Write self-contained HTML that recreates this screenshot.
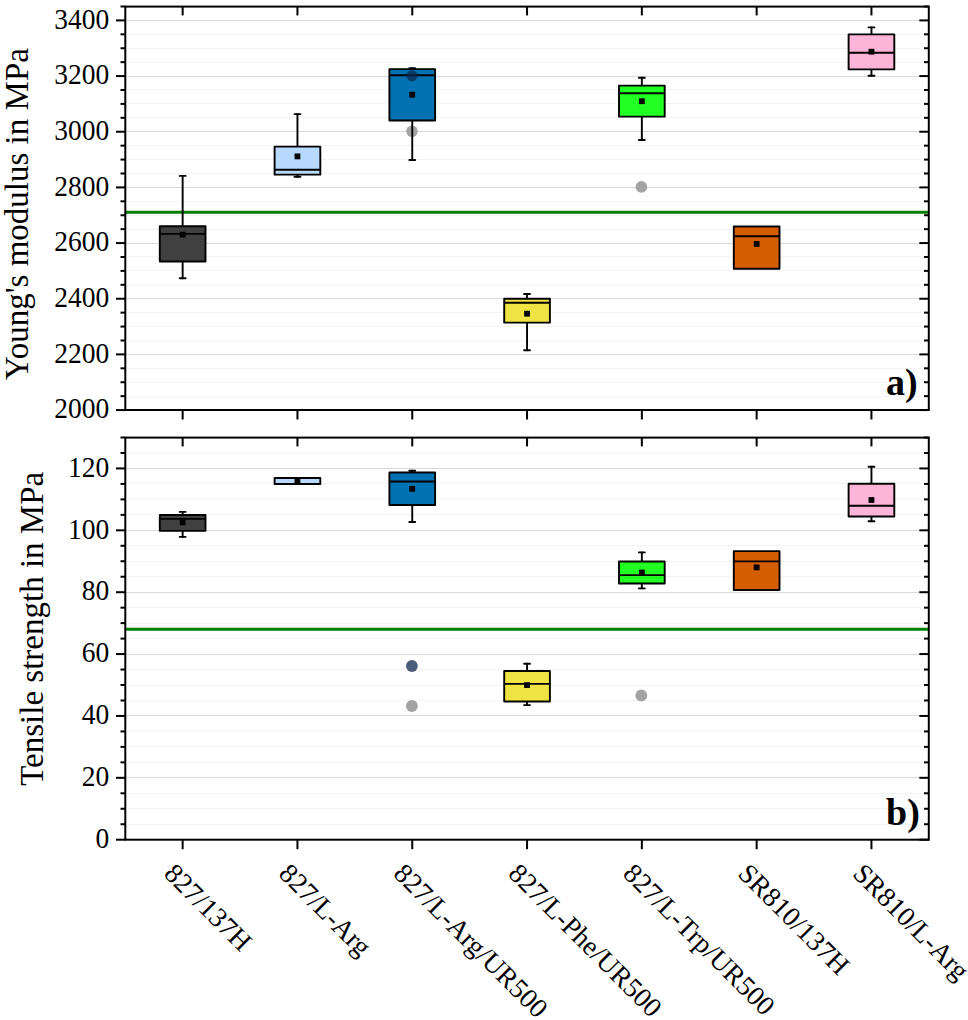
<!DOCTYPE html>
<html><head><meta charset="utf-8"><style>
html,body{margin:0;padding:0;background:#fff;}
body{width:968px;height:1020px;overflow:hidden;}
svg{display:block;}
text{font-family:"Liberation Serif",serif;fill:#000;}
.tl{font-size:27.5px;text-anchor:end;}
.at{font-size:33px;text-anchor:middle;}
.xl{font-size:27.5px;}
.tag{font-size:38px;font-weight:bold;}
.k{stroke:#000;stroke-width:1.9;stroke-linecap:round;}
.md{stroke:#000;stroke-width:1.9;}
.bx{stroke:#000;stroke-width:1.9;stroke-linejoin:round;}
.t{stroke:#000;stroke-width:2;}
.Mg{stroke:#d9d9d9;stroke-width:1.1;}
.mg{stroke:#ececec;stroke-width:1;stroke-dasharray:1.6 1;}
</style></head><body>
<svg width="968" height="1020" viewBox="0 0 968 1020">
<rect width="968" height="1020" fill="#fff"/>
<line x1="127.8" y1="396.5" x2="921.8" y2="396.5" class="mg"/>
<line x1="127.8" y1="382.5" x2="921.8" y2="382.5" class="mg"/>
<line x1="127.8" y1="368.5" x2="921.8" y2="368.5" class="mg"/>
<line x1="127.8" y1="340.5" x2="921.8" y2="340.5" class="mg"/>
<line x1="127.8" y1="326.5" x2="921.8" y2="326.5" class="mg"/>
<line x1="127.8" y1="312.5" x2="921.8" y2="312.5" class="mg"/>
<line x1="127.8" y1="284.5" x2="921.8" y2="284.5" class="mg"/>
<line x1="127.8" y1="270.5" x2="921.8" y2="270.5" class="mg"/>
<line x1="127.8" y1="256.5" x2="921.8" y2="256.5" class="mg"/>
<line x1="127.8" y1="229.5" x2="921.8" y2="229.5" class="mg"/>
<line x1="127.8" y1="215.5" x2="921.8" y2="215.5" class="mg"/>
<line x1="127.8" y1="201.5" x2="921.8" y2="201.5" class="mg"/>
<line x1="127.8" y1="173.5" x2="921.8" y2="173.5" class="mg"/>
<line x1="127.8" y1="159.5" x2="921.8" y2="159.5" class="mg"/>
<line x1="127.8" y1="145.5" x2="921.8" y2="145.5" class="mg"/>
<line x1="127.8" y1="117.5" x2="921.8" y2="117.5" class="mg"/>
<line x1="127.8" y1="103.5" x2="921.8" y2="103.5" class="mg"/>
<line x1="127.8" y1="89.5" x2="921.8" y2="89.5" class="mg"/>
<line x1="127.8" y1="62.5" x2="921.8" y2="62.5" class="mg"/>
<line x1="127.8" y1="48.5" x2="921.8" y2="48.5" class="mg"/>
<line x1="127.8" y1="34.5" x2="921.8" y2="34.5" class="mg"/>
<line x1="126.3" y1="354.5" x2="919.3" y2="354.5" class="Mg"/>
<line x1="126.3" y1="298.5" x2="919.3" y2="298.5" class="Mg"/>
<line x1="126.3" y1="243.5" x2="919.3" y2="243.5" class="Mg"/>
<line x1="126.3" y1="187.5" x2="919.3" y2="187.5" class="Mg"/>
<line x1="126.3" y1="131.5" x2="919.3" y2="131.5" class="Mg"/>
<line x1="126.3" y1="76.5" x2="919.3" y2="76.5" class="Mg"/>
<line x1="126.3" y1="20.5" x2="919.3" y2="20.5" class="Mg"/>
<line x1="125.3" y1="212.3" x2="928.8" y2="212.3" stroke="#008000" stroke-width="3"/>
<circle cx="412" cy="131.3" r="5.8" fill="#a3a3a3"/>
<circle cx="641.4" cy="186.9" r="5.8" fill="#a3a3a3"/>
<line x1="182.65" y1="175.9" x2="182.65" y2="226.25" class="k"/>
<line x1="179.7" y1="175.9" x2="185.6" y2="175.9" class="k"/>
<line x1="182.65" y1="261.45" x2="182.65" y2="278.3" class="k"/>
<line x1="179.7" y1="278.3" x2="185.6" y2="278.3" class="k"/>
<rect x="159.8" y="226.25" width="45.7" height="35.2" fill="#404040" class="bx"/>
<line x1="159.8" y1="233.9" x2="205.5" y2="233.9" class="md"/>
<rect x="179.75" y="231.8" width="5.8" height="5.8" fill="#000"/>
<line x1="297.45" y1="114.1" x2="297.45" y2="146.65" class="k"/>
<line x1="294.5" y1="114.1" x2="300.4" y2="114.1" class="k"/>
<line x1="297.45" y1="174.65" x2="297.45" y2="176.7" class="k"/>
<line x1="294.5" y1="176.7" x2="300.4" y2="176.7" class="k"/>
<rect x="274.6" y="146.65" width="45.7" height="28" fill="#b7d9fd" class="bx"/>
<line x1="274.6" y1="169.7" x2="320.3" y2="169.7" class="md"/>
<rect x="294.55" y="153.5" width="5.8" height="5.8" fill="#000"/>
<line x1="412.25" y1="68.2" x2="412.25" y2="69.15" class="k"/>
<line x1="409.3" y1="68.2" x2="415.2" y2="68.2" class="k"/>
<line x1="412.25" y1="120.45" x2="412.25" y2="160" class="k"/>
<line x1="409.3" y1="160" x2="415.2" y2="160" class="k"/>
<rect x="389.4" y="69.15" width="45.7" height="51.3" fill="#0072b2" class="bx"/>
<line x1="389.4" y1="75.3" x2="435.1" y2="75.3" class="md"/>
<rect x="409.35" y="91.8" width="5.8" height="5.8" fill="#000"/>
<line x1="527.05" y1="294" x2="527.05" y2="298.75" class="k"/>
<line x1="524.1" y1="294" x2="530" y2="294" class="k"/>
<line x1="527.05" y1="322.65" x2="527.05" y2="350.2" class="k"/>
<line x1="524.1" y1="350.2" x2="530" y2="350.2" class="k"/>
<rect x="504.2" y="298.75" width="45.7" height="23.9" fill="#f0e442" class="bx"/>
<line x1="504.2" y1="302.7" x2="549.9" y2="302.7" class="md"/>
<rect x="524.15" y="310.8" width="5.8" height="5.8" fill="#000"/>
<line x1="641.85" y1="77.8" x2="641.85" y2="85.65" class="k"/>
<line x1="638.9" y1="77.8" x2="644.8" y2="77.8" class="k"/>
<line x1="641.85" y1="116.65" x2="641.85" y2="140" class="k"/>
<line x1="638.9" y1="140" x2="644.8" y2="140" class="k"/>
<rect x="619" y="85.65" width="45.7" height="31" fill="#22ff22" class="bx"/>
<line x1="619" y1="93.3" x2="664.7" y2="93.3" class="md"/>
<rect x="638.95" y="98.3" width="5.8" height="5.8" fill="#000"/>
<rect x="733.8" y="226.45" width="45.7" height="42.3" fill="#d55e00" class="bx"/>
<line x1="733.8" y1="236.3" x2="779.5" y2="236.3" class="md"/>
<rect x="753.75" y="241" width="5.8" height="5.8" fill="#000"/>
<line x1="871.45" y1="27.4" x2="871.45" y2="34.35" class="k"/>
<line x1="868.5" y1="27.4" x2="874.4" y2="27.4" class="k"/>
<line x1="871.45" y1="69.35" x2="871.45" y2="75.7" class="k"/>
<line x1="868.5" y1="75.7" x2="874.4" y2="75.7" class="k"/>
<rect x="848.6" y="34.35" width="45.7" height="35" fill="#fcb4d8" class="bx"/>
<line x1="848.6" y1="52.8" x2="894.3" y2="52.8" class="md"/>
<rect x="868.55" y="48.8" width="5.8" height="5.8" fill="#000"/>
<circle cx="412" cy="75.8" r="5.6" fill="#0d284e" fill-opacity="0.75"/>
<rect x="125.3" y="6.6" width="803.5" height="403.4" fill="none" stroke="#000" stroke-width="2.0"/>
<line x1="116" y1="410.07" x2="125.3" y2="410.07" class="t"/>
<line x1="928.8" y1="410.07" x2="919.3" y2="410.07" class="t"/>
<line x1="116" y1="354.4" x2="125.3" y2="354.4" class="t"/>
<line x1="928.8" y1="354.4" x2="919.3" y2="354.4" class="t"/>
<line x1="116" y1="298.74" x2="125.3" y2="298.74" class="t"/>
<line x1="928.8" y1="298.74" x2="919.3" y2="298.74" class="t"/>
<line x1="116" y1="243.07" x2="125.3" y2="243.07" class="t"/>
<line x1="928.8" y1="243.07" x2="919.3" y2="243.07" class="t"/>
<line x1="116" y1="187.41" x2="125.3" y2="187.41" class="t"/>
<line x1="928.8" y1="187.41" x2="919.3" y2="187.41" class="t"/>
<line x1="116" y1="131.74" x2="125.3" y2="131.74" class="t"/>
<line x1="928.8" y1="131.74" x2="919.3" y2="131.74" class="t"/>
<line x1="116" y1="76.07" x2="125.3" y2="76.07" class="t"/>
<line x1="928.8" y1="76.07" x2="919.3" y2="76.07" class="t"/>
<line x1="116" y1="20.41" x2="125.3" y2="20.41" class="t"/>
<line x1="928.8" y1="20.41" x2="919.3" y2="20.41" class="t"/>
<line x1="120.5" y1="396.15" x2="125.3" y2="396.15" class="t"/>
<line x1="928.8" y1="396.15" x2="924" y2="396.15" class="t"/>
<line x1="120.5" y1="382.24" x2="125.3" y2="382.24" class="t"/>
<line x1="928.8" y1="382.24" x2="924" y2="382.24" class="t"/>
<line x1="120.5" y1="368.32" x2="125.3" y2="368.32" class="t"/>
<line x1="928.8" y1="368.32" x2="924" y2="368.32" class="t"/>
<line x1="120.5" y1="340.49" x2="125.3" y2="340.49" class="t"/>
<line x1="928.8" y1="340.49" x2="924" y2="340.49" class="t"/>
<line x1="120.5" y1="326.57" x2="125.3" y2="326.57" class="t"/>
<line x1="928.8" y1="326.57" x2="924" y2="326.57" class="t"/>
<line x1="120.5" y1="312.65" x2="125.3" y2="312.65" class="t"/>
<line x1="928.8" y1="312.65" x2="924" y2="312.65" class="t"/>
<line x1="120.5" y1="284.82" x2="125.3" y2="284.82" class="t"/>
<line x1="928.8" y1="284.82" x2="924" y2="284.82" class="t"/>
<line x1="120.5" y1="270.9" x2="125.3" y2="270.9" class="t"/>
<line x1="928.8" y1="270.9" x2="924" y2="270.9" class="t"/>
<line x1="120.5" y1="256.99" x2="125.3" y2="256.99" class="t"/>
<line x1="928.8" y1="256.99" x2="924" y2="256.99" class="t"/>
<line x1="120.5" y1="229.16" x2="125.3" y2="229.16" class="t"/>
<line x1="928.8" y1="229.16" x2="924" y2="229.16" class="t"/>
<line x1="120.5" y1="215.24" x2="125.3" y2="215.24" class="t"/>
<line x1="928.8" y1="215.24" x2="924" y2="215.24" class="t"/>
<line x1="120.5" y1="201.32" x2="125.3" y2="201.32" class="t"/>
<line x1="928.8" y1="201.32" x2="924" y2="201.32" class="t"/>
<line x1="120.5" y1="173.49" x2="125.3" y2="173.49" class="t"/>
<line x1="928.8" y1="173.49" x2="924" y2="173.49" class="t"/>
<line x1="120.5" y1="159.57" x2="125.3" y2="159.57" class="t"/>
<line x1="928.8" y1="159.57" x2="924" y2="159.57" class="t"/>
<line x1="120.5" y1="145.66" x2="125.3" y2="145.66" class="t"/>
<line x1="928.8" y1="145.66" x2="924" y2="145.66" class="t"/>
<line x1="120.5" y1="117.82" x2="125.3" y2="117.82" class="t"/>
<line x1="928.8" y1="117.82" x2="924" y2="117.82" class="t"/>
<line x1="120.5" y1="103.91" x2="125.3" y2="103.91" class="t"/>
<line x1="928.8" y1="103.91" x2="924" y2="103.91" class="t"/>
<line x1="120.5" y1="89.99" x2="125.3" y2="89.99" class="t"/>
<line x1="928.8" y1="89.99" x2="924" y2="89.99" class="t"/>
<line x1="120.5" y1="62.16" x2="125.3" y2="62.16" class="t"/>
<line x1="928.8" y1="62.16" x2="924" y2="62.16" class="t"/>
<line x1="120.5" y1="48.24" x2="125.3" y2="48.24" class="t"/>
<line x1="928.8" y1="48.24" x2="924" y2="48.24" class="t"/>
<line x1="120.5" y1="34.32" x2="125.3" y2="34.32" class="t"/>
<line x1="928.8" y1="34.32" x2="924" y2="34.32" class="t"/>
<line x1="120.5" y1="6.49" x2="125.3" y2="6.49" class="t"/>
<line x1="928.8" y1="6.49" x2="924" y2="6.49" class="t"/>
<line x1="182.65" y1="6.6" x2="182.65" y2="15.4" class="t"/>
<line x1="182.65" y1="410" x2="182.65" y2="419.5" class="t"/>
<line x1="297.45" y1="6.6" x2="297.45" y2="15.4" class="t"/>
<line x1="297.45" y1="410" x2="297.45" y2="419.5" class="t"/>
<line x1="412.25" y1="6.6" x2="412.25" y2="15.4" class="t"/>
<line x1="412.25" y1="410" x2="412.25" y2="419.5" class="t"/>
<line x1="527.05" y1="6.6" x2="527.05" y2="15.4" class="t"/>
<line x1="527.05" y1="410" x2="527.05" y2="419.5" class="t"/>
<line x1="641.85" y1="6.6" x2="641.85" y2="15.4" class="t"/>
<line x1="641.85" y1="410" x2="641.85" y2="419.5" class="t"/>
<line x1="756.65" y1="6.6" x2="756.65" y2="15.4" class="t"/>
<line x1="756.65" y1="410" x2="756.65" y2="419.5" class="t"/>
<line x1="871.45" y1="6.6" x2="871.45" y2="15.4" class="t"/>
<line x1="871.45" y1="410" x2="871.45" y2="419.5" class="t"/>
<text transform="translate(109.3,418.27) scale(1,1.045)" class="tl">2000</text>
<text transform="translate(109.3,362.6) scale(1,1.045)" class="tl">2200</text>
<text transform="translate(109.3,306.94) scale(1,1.045)" class="tl">2400</text>
<text transform="translate(109.3,251.27) scale(1,1.045)" class="tl">2600</text>
<text transform="translate(109.3,195.61) scale(1,1.045)" class="tl">2800</text>
<text transform="translate(109.3,139.94) scale(1,1.045)" class="tl">3000</text>
<text transform="translate(109.3,84.27) scale(1,1.045)" class="tl">3200</text>
<text transform="translate(109.3,28.61) scale(1,1.045)" class="tl">3400</text>
<text x="886" y="395.2" class="tag">a)</text>
<line x1="127.8" y1="824.5" x2="921.8" y2="824.5" class="mg"/>
<line x1="127.8" y1="808.5" x2="921.8" y2="808.5" class="mg"/>
<line x1="127.8" y1="793.5" x2="921.8" y2="793.5" class="mg"/>
<line x1="127.8" y1="762.5" x2="921.8" y2="762.5" class="mg"/>
<line x1="127.8" y1="746.5" x2="921.8" y2="746.5" class="mg"/>
<line x1="127.8" y1="731.5" x2="921.8" y2="731.5" class="mg"/>
<line x1="127.8" y1="700.5" x2="921.8" y2="700.5" class="mg"/>
<line x1="127.8" y1="685.5" x2="921.8" y2="685.5" class="mg"/>
<line x1="127.8" y1="669.5" x2="921.8" y2="669.5" class="mg"/>
<line x1="127.8" y1="638.5" x2="921.8" y2="638.5" class="mg"/>
<line x1="127.8" y1="623.5" x2="921.8" y2="623.5" class="mg"/>
<line x1="127.8" y1="607.5" x2="921.8" y2="607.5" class="mg"/>
<line x1="127.8" y1="576.5" x2="921.8" y2="576.5" class="mg"/>
<line x1="127.8" y1="561.5" x2="921.8" y2="561.5" class="mg"/>
<line x1="127.8" y1="545.5" x2="921.8" y2="545.5" class="mg"/>
<line x1="127.8" y1="514.5" x2="921.8" y2="514.5" class="mg"/>
<line x1="127.8" y1="499.5" x2="921.8" y2="499.5" class="mg"/>
<line x1="127.8" y1="483.5" x2="921.8" y2="483.5" class="mg"/>
<line x1="127.8" y1="452.5" x2="921.8" y2="452.5" class="mg"/>
<line x1="126.3" y1="777.5" x2="919.3" y2="777.5" class="Mg"/>
<line x1="126.3" y1="715.5" x2="919.3" y2="715.5" class="Mg"/>
<line x1="126.3" y1="654.5" x2="919.3" y2="654.5" class="Mg"/>
<line x1="126.3" y1="592.5" x2="919.3" y2="592.5" class="Mg"/>
<line x1="126.3" y1="530.5" x2="919.3" y2="530.5" class="Mg"/>
<line x1="126.3" y1="468.5" x2="919.3" y2="468.5" class="Mg"/>
<line x1="125.3" y1="629.2" x2="928.8" y2="629.2" stroke="#008000" stroke-width="3"/>
<circle cx="411.9" cy="706" r="5.9" fill="#a3a3a3"/>
<circle cx="641.3" cy="695.5" r="5.9" fill="#a3a3a3"/>
<line x1="182.65" y1="511.9" x2="182.65" y2="515.05" class="k"/>
<line x1="179.7" y1="511.9" x2="185.6" y2="511.9" class="k"/>
<line x1="182.65" y1="530.85" x2="182.65" y2="536.9" class="k"/>
<line x1="179.7" y1="536.9" x2="185.6" y2="536.9" class="k"/>
<rect x="159.8" y="515.05" width="45.7" height="15.8" fill="#404040" class="bx"/>
<line x1="159.8" y1="518.9" x2="205.5" y2="518.9" class="md"/>
<rect x="179.75" y="519.5" width="5.8" height="5.8" fill="#000"/>
<rect x="274.6" y="478.05" width="45.7" height="6" fill="#b7d9fd" class="bx"/>
<line x1="274.6" y1="484" x2="320.3" y2="484" class="md"/>
<rect x="294.55" y="477.6" width="5.8" height="5.8" fill="#000"/>
<line x1="412.25" y1="470.8" x2="412.25" y2="472.55" class="k"/>
<line x1="409.3" y1="470.8" x2="415.2" y2="470.8" class="k"/>
<line x1="412.25" y1="504.95" x2="412.25" y2="522" class="k"/>
<line x1="409.3" y1="522" x2="415.2" y2="522" class="k"/>
<rect x="389.4" y="472.55" width="45.7" height="32.4" fill="#0072b2" class="bx"/>
<line x1="389.4" y1="481.5" x2="435.1" y2="481.5" class="md"/>
<rect x="409.35" y="485.9" width="5.8" height="5.8" fill="#000"/>
<line x1="527.05" y1="663.8" x2="527.05" y2="671.05" class="k"/>
<line x1="524.1" y1="663.8" x2="530" y2="663.8" class="k"/>
<line x1="527.05" y1="701.45" x2="527.05" y2="705.1" class="k"/>
<line x1="524.1" y1="705.1" x2="530" y2="705.1" class="k"/>
<rect x="504.2" y="671.05" width="45.7" height="30.4" fill="#f0e442" class="bx"/>
<line x1="504.2" y1="683.9" x2="549.9" y2="683.9" class="md"/>
<rect x="524.15" y="682.2" width="5.8" height="5.8" fill="#000"/>
<line x1="641.85" y1="552.4" x2="641.85" y2="561.45" class="k"/>
<line x1="638.9" y1="552.4" x2="644.8" y2="552.4" class="k"/>
<line x1="641.85" y1="583.55" x2="641.85" y2="588.4" class="k"/>
<line x1="638.9" y1="588.4" x2="644.8" y2="588.4" class="k"/>
<rect x="619" y="561.45" width="45.7" height="22.1" fill="#22ff22" class="bx"/>
<line x1="619" y1="575.1" x2="664.7" y2="575.1" class="md"/>
<rect x="638.95" y="569.6" width="5.8" height="5.8" fill="#000"/>
<rect x="733.8" y="551.15" width="45.7" height="38.8" fill="#d55e00" class="bx"/>
<line x1="733.8" y1="561.4" x2="779.5" y2="561.4" class="md"/>
<rect x="753.75" y="564.5" width="5.8" height="5.8" fill="#000"/>
<line x1="871.45" y1="466.8" x2="871.45" y2="483.75" class="k"/>
<line x1="868.5" y1="466.8" x2="874.4" y2="466.8" class="k"/>
<line x1="871.45" y1="516.55" x2="871.45" y2="521.2" class="k"/>
<line x1="868.5" y1="521.2" x2="874.4" y2="521.2" class="k"/>
<rect x="848.6" y="483.75" width="45.7" height="32.8" fill="#fcb4d8" class="bx"/>
<line x1="848.6" y1="505.7" x2="894.3" y2="505.7" class="md"/>
<rect x="868.55" y="497.1" width="5.8" height="5.8" fill="#000"/>
<circle cx="411.9" cy="666" r="5.9" fill="#0d284e" fill-opacity="0.75"/>
<rect x="125.3" y="437.6" width="803.5" height="402.1" fill="none" stroke="#000" stroke-width="2.0"/>
<line x1="116" y1="839.7" x2="125.3" y2="839.7" class="t"/>
<line x1="928.8" y1="839.7" x2="919.3" y2="839.7" class="t"/>
<line x1="116" y1="777.82" x2="125.3" y2="777.82" class="t"/>
<line x1="928.8" y1="777.82" x2="919.3" y2="777.82" class="t"/>
<line x1="116" y1="715.95" x2="125.3" y2="715.95" class="t"/>
<line x1="928.8" y1="715.95" x2="919.3" y2="715.95" class="t"/>
<line x1="116" y1="654.07" x2="125.3" y2="654.07" class="t"/>
<line x1="928.8" y1="654.07" x2="919.3" y2="654.07" class="t"/>
<line x1="116" y1="592.2" x2="125.3" y2="592.2" class="t"/>
<line x1="928.8" y1="592.2" x2="919.3" y2="592.2" class="t"/>
<line x1="116" y1="530.32" x2="125.3" y2="530.32" class="t"/>
<line x1="928.8" y1="530.32" x2="919.3" y2="530.32" class="t"/>
<line x1="116" y1="468.44" x2="125.3" y2="468.44" class="t"/>
<line x1="928.8" y1="468.44" x2="919.3" y2="468.44" class="t"/>
<line x1="120.5" y1="824.23" x2="125.3" y2="824.23" class="t"/>
<line x1="928.8" y1="824.23" x2="924" y2="824.23" class="t"/>
<line x1="120.5" y1="808.76" x2="125.3" y2="808.76" class="t"/>
<line x1="928.8" y1="808.76" x2="924" y2="808.76" class="t"/>
<line x1="120.5" y1="793.29" x2="125.3" y2="793.29" class="t"/>
<line x1="928.8" y1="793.29" x2="924" y2="793.29" class="t"/>
<line x1="120.5" y1="762.36" x2="125.3" y2="762.36" class="t"/>
<line x1="928.8" y1="762.36" x2="924" y2="762.36" class="t"/>
<line x1="120.5" y1="746.89" x2="125.3" y2="746.89" class="t"/>
<line x1="928.8" y1="746.89" x2="924" y2="746.89" class="t"/>
<line x1="120.5" y1="731.42" x2="125.3" y2="731.42" class="t"/>
<line x1="928.8" y1="731.42" x2="924" y2="731.42" class="t"/>
<line x1="120.5" y1="700.48" x2="125.3" y2="700.48" class="t"/>
<line x1="928.8" y1="700.48" x2="924" y2="700.48" class="t"/>
<line x1="120.5" y1="685.01" x2="125.3" y2="685.01" class="t"/>
<line x1="928.8" y1="685.01" x2="924" y2="685.01" class="t"/>
<line x1="120.5" y1="669.54" x2="125.3" y2="669.54" class="t"/>
<line x1="928.8" y1="669.54" x2="924" y2="669.54" class="t"/>
<line x1="120.5" y1="638.6" x2="125.3" y2="638.6" class="t"/>
<line x1="928.8" y1="638.6" x2="924" y2="638.6" class="t"/>
<line x1="120.5" y1="623.13" x2="125.3" y2="623.13" class="t"/>
<line x1="928.8" y1="623.13" x2="924" y2="623.13" class="t"/>
<line x1="120.5" y1="607.67" x2="125.3" y2="607.67" class="t"/>
<line x1="928.8" y1="607.67" x2="924" y2="607.67" class="t"/>
<line x1="120.5" y1="576.73" x2="125.3" y2="576.73" class="t"/>
<line x1="928.8" y1="576.73" x2="924" y2="576.73" class="t"/>
<line x1="120.5" y1="561.26" x2="125.3" y2="561.26" class="t"/>
<line x1="928.8" y1="561.26" x2="924" y2="561.26" class="t"/>
<line x1="120.5" y1="545.79" x2="125.3" y2="545.79" class="t"/>
<line x1="928.8" y1="545.79" x2="924" y2="545.79" class="t"/>
<line x1="120.5" y1="514.85" x2="125.3" y2="514.85" class="t"/>
<line x1="928.8" y1="514.85" x2="924" y2="514.85" class="t"/>
<line x1="120.5" y1="499.38" x2="125.3" y2="499.38" class="t"/>
<line x1="928.8" y1="499.38" x2="924" y2="499.38" class="t"/>
<line x1="120.5" y1="483.91" x2="125.3" y2="483.91" class="t"/>
<line x1="928.8" y1="483.91" x2="924" y2="483.91" class="t"/>
<line x1="120.5" y1="452.98" x2="125.3" y2="452.98" class="t"/>
<line x1="928.8" y1="452.98" x2="924" y2="452.98" class="t"/>
<line x1="120.5" y1="437.51" x2="125.3" y2="437.51" class="t"/>
<line x1="928.8" y1="437.51" x2="924" y2="437.51" class="t"/>
<line x1="182.65" y1="437.6" x2="182.65" y2="446.4" class="t"/>
<line x1="182.65" y1="839.7" x2="182.65" y2="849.2" class="t"/>
<line x1="297.45" y1="437.6" x2="297.45" y2="446.4" class="t"/>
<line x1="297.45" y1="839.7" x2="297.45" y2="849.2" class="t"/>
<line x1="412.25" y1="437.6" x2="412.25" y2="446.4" class="t"/>
<line x1="412.25" y1="839.7" x2="412.25" y2="849.2" class="t"/>
<line x1="527.05" y1="437.6" x2="527.05" y2="446.4" class="t"/>
<line x1="527.05" y1="839.7" x2="527.05" y2="849.2" class="t"/>
<line x1="641.85" y1="437.6" x2="641.85" y2="446.4" class="t"/>
<line x1="641.85" y1="839.7" x2="641.85" y2="849.2" class="t"/>
<line x1="756.65" y1="437.6" x2="756.65" y2="446.4" class="t"/>
<line x1="756.65" y1="839.7" x2="756.65" y2="849.2" class="t"/>
<line x1="871.45" y1="437.6" x2="871.45" y2="446.4" class="t"/>
<line x1="871.45" y1="839.7" x2="871.45" y2="849.2" class="t"/>
<text transform="translate(109.3,847.9) scale(1,1.045)" class="tl">0</text>
<text transform="translate(109.3,786.02) scale(1,1.045)" class="tl">20</text>
<text transform="translate(109.3,724.15) scale(1,1.045)" class="tl">40</text>
<text transform="translate(109.3,662.27) scale(1,1.045)" class="tl">60</text>
<text transform="translate(109.3,600.4) scale(1,1.045)" class="tl">80</text>
<text transform="translate(109.3,538.52) scale(1,1.045)" class="tl">100</text>
<text transform="translate(109.3,476.64) scale(1,1.045)" class="tl">120</text>
<text x="886" y="824.8" class="tag">b)</text>
<text transform="translate(27.7,214) rotate(-90)" class="at">Young's modulus in MPa</text>
<text transform="translate(43.2,628.8) rotate(-90)" class="at">Tensile strength in MPa</text>
<text transform="translate(162.65,875) rotate(45)" class="xl">827/137H</text>
<text transform="translate(277.45,875) rotate(45)" class="xl">827/L-Arg</text>
<text transform="translate(392.25,875) rotate(45)" class="xl">827/L-Arg/UR500</text>
<text transform="translate(507.05,875) rotate(45)" class="xl">827/L-Phe/UR500</text>
<text transform="translate(621.85,875) rotate(45)" class="xl">827/L-Trp/UR500</text>
<text transform="translate(736.65,875) rotate(45)" class="xl">SR810/137H</text>
<text transform="translate(851.45,875) rotate(45)" class="xl">SR810/L-Arg</text>
</svg>
</body></html>
